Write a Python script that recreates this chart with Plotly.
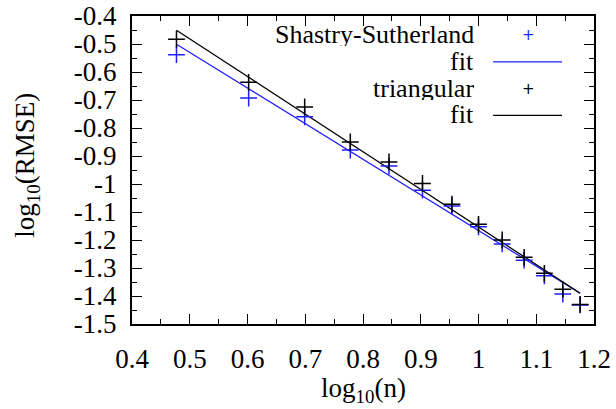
import plotly.graph_objects as go

# data
log_n = [0.477, 0.602, 0.699, 0.778, 0.845, 0.903, 0.954, 1.000, 1.041, 1.079, 1.114, 1.146, 1.176]
ss_rmse = [-0.538, -0.693, -0.760, -0.879, -0.936, -1.022, -1.079, -1.153, -1.214, -1.272, -1.328, -1.393, -1.432]
tri_rmse = [-0.483, -0.637, -0.725, -0.850, -0.921, -0.998, -1.072, -1.144, -1.200, -1.262, -1.319, -1.376, -1.430]
fit_x = [0.477, 1.176]
ss_fit = [-0.501, -1.390]
tri_fit = [-0.451, -1.390]

x_ticks = [0.4, 0.5, 0.6, 0.7, 0.8, 0.9, 1.0, 1.1, 1.2]
x_tick_labels = ["0.4", "0.5", "0.6", "0.7", "0.8", "0.9", "1", "1.1", "1.2"]
y_ticks = [-0.4, -0.5, -0.6, -0.7, -0.8, -0.9, -1.0, -1.1, -1.2, -1.3, -1.4, -1.5]
y_tick_labels = ["-0.4", "-0.5", "-0.6", "-0.7", "-0.8", "-0.9", "-1", "-1.1", "-1.2", "-1.3", "-1.4", "-1.5"]
x_title = "log<sub>10</sub>(n)"
y_title = "log<sub>10</sub>(RMSE)"

BLUE = "#1f1fff"
FONT = "Liberation Serif"
FS = 27

fig = go.Figure()
fig.add_trace(go.Scatter(x=fit_x, y=ss_fit, mode="lines", line=dict(color=BLUE, width=1.3), showlegend=False))
fig.add_trace(go.Scatter(x=fit_x, y=tri_fit, mode="lines", line=dict(color="black", width=1.3), showlegend=False))
fig.add_trace(go.Scatter(x=log_n, y=ss_rmse, mode="markers",
                         marker=dict(symbol="cross-thin", size=12, line=dict(color=BLUE, width=1.5)), showlegend=False))
fig.add_trace(go.Scatter(x=log_n, y=tri_rmse, mode="markers",
                         marker=dict(symbol="cross-thin", size=12, line=dict(color="black", width=1.5)), showlegend=False))

W, H = 616, 409
L, R, T, B = 131.5, 22, 15.7, 85
pw, ph = W - L - R, H - T - B
def px2paper(px, py):
    return (px - L) / pw, 1 - (py - T) / ph

# gnuplot-style key (text right-aligned, sample on the right)
legend_rows = [("Shastry-Sutherland", BLUE, "marker"), ("fit", BLUE, "line"),
               ("triangular", "black", "marker"), ("fit", "black", "line")]
for i, (txt, col, kind) in enumerate(legend_rows):
    py = 34 + i * 26.7
    tx, ty = px2paper(476, py)
    fig.add_annotation(x=tx, y=ty, xref="paper", yref="paper", text=txt, showarrow=False,
                       xanchor="right", yanchor="middle", height=24, valign="middle",
                       font=dict(family=FONT, size=26, color="black"))
    if kind == "marker":
        mx, my = px2paper(528, py + 1)
        fig.add_annotation(x=mx, y=my, xref="paper", yref="paper", text="+", showarrow=False,
                           xanchor="center", yanchor="middle", height=18, valign="middle",
                           font=dict(family="DejaVu Sans", size=15, color=col))
    else:
        x0, y0 = px2paper(493, py + 1)
        x1, _ = px2paper(562, py + 1)
        fig.add_shape(type="line", xref="paper", yref="paper", x0=x0, x1=x1, y0=y0, y1=y0,
                      line=dict(color=col, width=1.3))

# axis titles
ax, ay = px2paper(363, 390)
fig.add_annotation(x=ax, y=ay, xref="paper", yref="paper", text=x_title, showarrow=False,
                   xanchor="center", yanchor="middle", font=dict(family=FONT, size=FS, color="black"))
bx, by = px2paper(27, 165)
fig.add_annotation(x=bx, y=by, xref="paper", yref="paper", text=y_title, showarrow=False, textangle=-90,
                   xanchor="center", yanchor="middle", font=dict(family=FONT, size=FS, color="black"))

axis_common = dict(showgrid=False, zeroline=False, showline=True, linecolor="black", linewidth=2,
                   mirror="allticks", ticks="inside", ticklen=10, tickwidth=1, tickcolor="black",
                   automargin=False, tickfont=dict(family=FONT, size=FS, color="black"))
fig.update_xaxes(range=[0.4, 1.2], tickvals=x_ticks, ticktext=x_tick_labels, ticklabelstandoff=10,
                 minor=dict(ticks="inside", ticklen=5, dtick=0.05, tickcolor="black", showgrid=False),
                 **axis_common)
fig.update_yaxes(range=[-1.5, -0.4], tickvals=y_ticks, ticktext=y_tick_labels, ticklabelstandoff=8,
                 minor=dict(ticks="inside", ticklen=5, dtick=0.05, tickcolor="black", showgrid=False),
                 **axis_common)
fig.update_layout(width=W, height=H, margin=dict(l=L, r=R, t=T, b=B, autoexpand=False),
                  plot_bgcolor="white", paper_bgcolor="white", showlegend=False)
fig.write_html("out.html", config={"displayModeBar": False},
               post_script="document.body.style.margin='0';")
